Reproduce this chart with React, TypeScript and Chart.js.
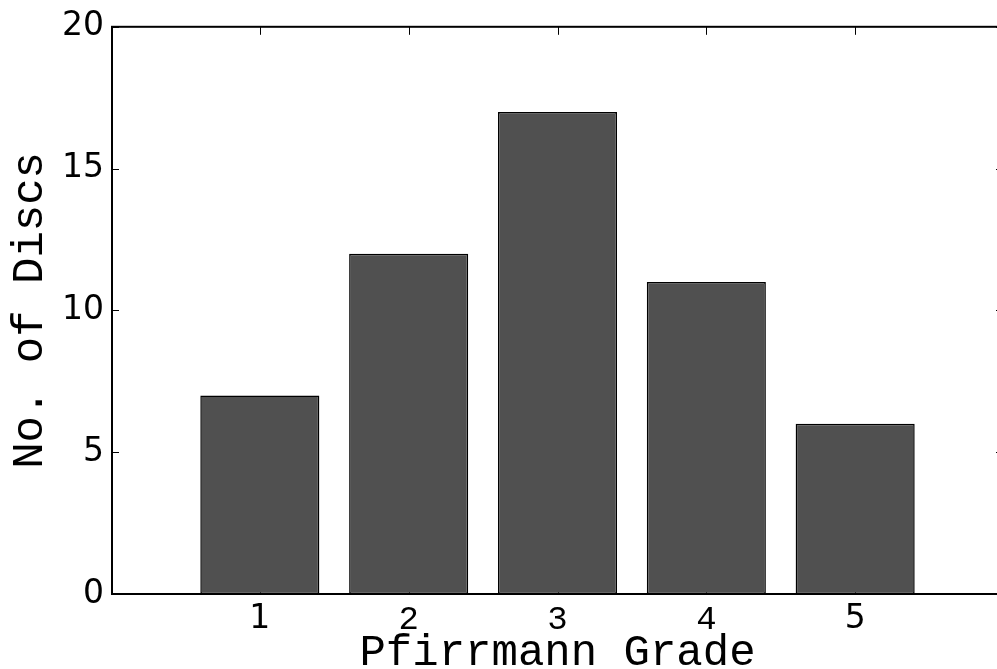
import React, { useEffect, useRef } from "react";
import { Chart, registerables } from "chart.js";

Chart.register(...registerables);

// ---- data ----
const grades = [1, 2, 3, 4, 5];
const discCounts = [7, 12, 17, 11, 6];
const xTickLabels = ["", "1", "2", "3", "4", "5", ""];
const yTickValues = [0, 5, 10, 15, 20];
const xTitle = "Pfirrmann Grade";
const yTitle = "No. of Discs";

const CANVAS_W = 1015;
const CANVAS_H = 690;

const framePlugin = {
  id: "matlabFrame",
  beforeDatasetsDraw(chart: any) {
    const { ctx, chartArea: a, scales } = chart;
    const len = 8;
    ctx.save();
    ctx.strokeStyle = "#000";
    ctx.lineWidth = 1;
    ctx.beginPath();
    scales.x.ticks.forEach((t: any) => {
      const px = Math.round(scales.x.getPixelForValue(t.value)) + 0.5;
      ctx.moveTo(px, a.top);
      ctx.lineTo(px, a.top + len);
      ctx.moveTo(px, a.bottom);
      ctx.lineTo(px, a.bottom - len);
    });
    scales.y.ticks.forEach((t: any) => {
      const py = Math.round(scales.y.getPixelForValue(t.value)) + 0.5;
      ctx.moveTo(a.left, py);
      ctx.lineTo(a.left + len, py);
      ctx.moveTo(a.right, py);
      ctx.lineTo(a.right - len, py);
    });
    ctx.stroke();
    ctx.restore();
  },
  afterDatasetsDraw(chart: any) {
    const { ctx, chartArea: a } = chart;
    ctx.save();
    ctx.strokeStyle = "#000";
    ctx.lineWidth = 2;
    ctx.strokeRect(a.left + 1, a.top, a.right - a.left, a.bottom - a.top);
    ctx.restore();
  },
};

export default function App() {
  const ref = useRef<HTMLCanvasElement | null>(null);

  useEffect(() => {
    if (!ref.current) return;
    const chart = new Chart(ref.current, {
      type: "bar",
      data: {
        datasets: [
          {
            data: grades.map((g, i) => ({ x: g, y: discCounts[i] })),
            backgroundColor: "#505050",
            borderColor: "#000",
            borderWidth: 1.5,
            borderSkipped: false,
            barPercentage: 0.8,
            categoryPercentage: 1,
          },
        ],
      },
      options: {
        animation: false,
        responsive: false,
        maintainAspectRatio: false,
        layout: { padding: { left: 0, top: 24, right: 11, bottom: 0 } },
        plugins: { legend: { display: false }, tooltip: { enabled: false } },
        scales: {
          x: {
            type: "linear",
            min: 0,
            max: 6,
            offset: false,
            grid: { display: false, drawTicks: false, offset: false },
            border: { display: false },
            afterFit(scale: any) {
              scale.height = CANVAS_H - 594;
            },
            afterBuildTicks(scale: any) {
              scale.ticks = xTickLabels.map((_, i) => ({ value: i }));
            },
            ticks: {
              autoSkip: false,
              maxRotation: 0,
              padding: 6,
              color: "#000",
              callback: (v: any) => xTickLabels[Number(v)] ?? "",
              font: (c: any) => {
                const v = c.tick ? c.tick.value : 0;
                return v >= 2 && v <= 4
                  ? { family: "'Liberation Mono', monospace", size: 34 }
                  : { family: "'DejaVu Sans', sans-serif", size: 33 };
              },
            },
            title: {
              display: true,
              text: xTitle,
              color: "#000",
              font: { family: "'Liberation Mono', monospace", size: 44 },
              padding: { top: 0, bottom: 10 },
            },
          },
          y: {
            type: "linear",
            min: 0,
            max: 20,
            grid: { display: false, drawTicks: false },
            border: { display: false },
            afterFit(scale: any) {
              scale.width = 111;
            },
            afterBuildTicks(scale: any) {
              scale.ticks = yTickValues.map((v) => ({ value: v }));
            },
            ticks: {
              padding: 7,
              color: "#000",
              font: { family: "'DejaVu Sans', sans-serif", size: 33 },
            },
            title: {
              display: true,
              text: yTitle,
              color: "#000",
              font: { family: "'Liberation Mono', monospace", size: 44 },
              padding: { top: 4, bottom: 0 },
            },
          },
        },
      },
      plugins: [framePlugin],
    } as any);
    return () => chart.destroy();
  }, []);

  return (
    <div
      style={{
        position: "fixed",
        left: 0,
        top: 0,
        width: 997,
        height: 669,
        overflow: "hidden",
        background: "#fff",
      }}
    >
      <canvas
        ref={ref}
        width={CANVAS_W}
        height={CANVAS_H}
        style={{ width: CANVAS_W, height: CANVAS_H, display: "block" }}
      />
    </div>
  );
}
